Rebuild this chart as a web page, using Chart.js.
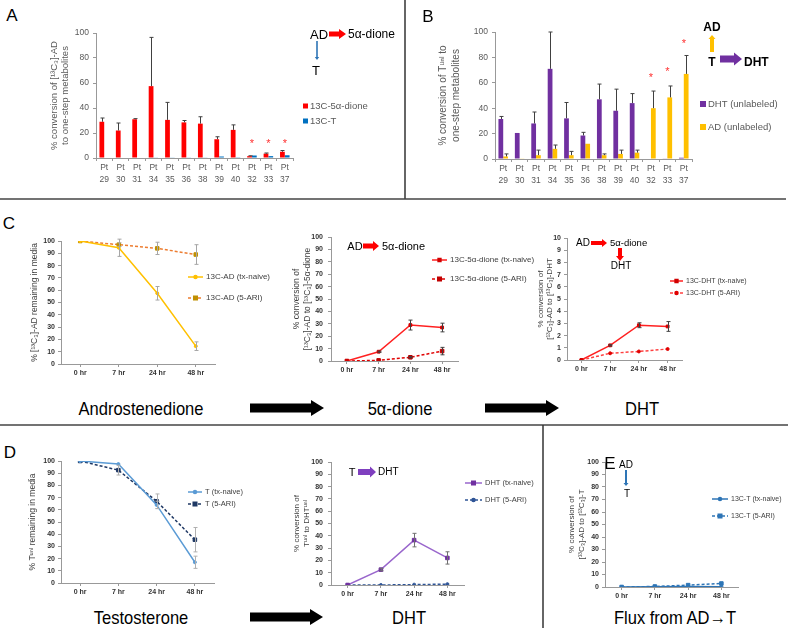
<!DOCTYPE html>
<html>
<head>
<meta charset="utf-8">
<title>AD and T metabolism in explants</title>
<script src="https://cdn.jsdelivr.net/npm/chart.js"></script>
<style>
  body { margin: 0; background: #fff; font-family: "Liberation Sans", Arial, sans-serif; }
  #fig { position: relative; width: 800px; height: 628px; overflow: hidden; }
  .box { position: absolute; }
  .box canvas { display: block; }
  .c { position: absolute; transform: translate(-50%, -50%); white-space: nowrap; line-height: 1; }
  .l { position: absolute; transform: translate(0, -50%); white-space: nowrap; line-height: 1; }
  .cap { font-size: 19px; transform: translate(-50%, -50%) scaleX(0.87); }
  .pl { font-size: 17px; }
</style>
</head>
<body>
<div id="fig">
  <svg id="ov" width="800" height="628" style="position:absolute;left:0;top:0">
    <line x1="405" y1="0" x2="405" y2="199" stroke="#333" stroke-width="1.5"/>
    <line x1="0" y1="199" x2="786" y2="199" stroke="#444" stroke-width="1.5"/>
    <line x1="0" y1="425" x2="788" y2="425" stroke="#444" stroke-width="1.5"/>
    <line x1="543" y1="425" x2="543" y2="628" stroke="#333" stroke-width="1.5"/>
  </svg>

  <div class="box" style="left:30px;top:15px"><canvas id="chA" width="370" height="180"></canvas></div>
  <div class="box" style="left:420px;top:14px"><canvas id="chB" width="380" height="181"></canvas></div>
  <div class="box" style="left:20px;top:225px"><canvas id="chC1" width="265" height="155"></canvas></div>
  <div class="box" style="left:285px;top:222px"><canvas id="chC2" width="255" height="155"></canvas></div>
  <div class="box" style="left:535px;top:222px"><canvas id="chC3" width="260" height="155"></canvas></div>
  <div class="box" style="left:20px;top:445px"><canvas id="chD1" width="265" height="155"></canvas></div>
  <div class="box" style="left:285px;top:445px"><canvas id="chD2" width="255" height="155"></canvas></div>
  <div class="box" style="left:550px;top:445px"><canvas id="chE" width="245" height="155"></canvas></div>

  <!-- panel letters -->
  <div class="c pl" style="left:12px;top:15px">A</div>
  <div class="c pl" style="left:428px;top:16px">B</div>
  <div class="c pl" style="left:9px;top:223px">C</div>
  <div class="c pl" style="left:10px;top:452px">D</div>
  <div class="c pl" style="left:610px;top:463px">E</div>

  <!-- pathway sketches -->
  <div class="c" style="left:319px;top:34px;font-size:13px">AD</div>
  <div class="l" style="left:348px;top:34px;font-size:12px">5α-dione</div>
  <div class="c" style="left:316px;top:70px;font-size:13px">T</div>

  <div class="c" style="left:712px;top:27px;font-size:12px;font-weight:bold">AD</div>
  <div class="c" style="left:712px;top:62px;font-size:12px;font-weight:bold">T</div>
  <div class="l" style="left:744px;top:62px;font-size:12px;font-weight:bold">DHT</div>

  <div class="c" style="left:355px;top:246px;font-size:11px">AD</div>
  <div class="l" style="left:382px;top:246px;font-size:11px">5α-dione</div>

  <div class="c" style="left:583px;top:243px;font-size:10px">AD</div>
  <div class="l" style="left:610px;top:243px;font-size:9.5px">5α-dione</div>
  <div class="c" style="left:621px;top:266px;font-size:10px">DHT</div>

  <div class="c" style="left:352px;top:472px;font-size:11px">T</div>
  <div class="l" style="left:378px;top:472px;font-size:10px">DHT</div>

  <div class="c" style="left:626px;top:465px;font-size:10px">AD</div>
  <div class="c" style="left:627px;top:494px;font-size:10px">T</div>

  <!-- captions -->
  <div class="c cap" style="left:141px;top:408px">Androstenedione</div>
  <div class="c cap" style="left:400px;top:408px">5α-dione</div>
  <div class="c cap" style="left:642px;top:408px">DHT</div>
  <div class="c cap" style="left:141px;top:617px">Testosterone</div>
  <div class="c cap" style="left:409px;top:617px">DHT</div>
  <div class="c cap" style="left:675px;top:617px">Flux from AD→T</div>
</div>

<script>
// ---- data ----
const patients = ['29', '30', '31', '34', '35', '36', '38', '39', '40', '32', '33', '37'];

// A: one-step metabolites of [13C3]-AD
const aDione    = [29, 22, 31, 57.5, 30.5, 28.5, 27.5, 15, 22.5, 1.5, 3.5, 5];
const aDioneErr = [3, 6, 0.5, 39, 14, 1.5, 5.5, 2, 4, 0.3, 0.5, 1];
const aT        = [0, 0, 0, 0.3, 0.3, 0.3, 0.3, 1.2, 0.6, 2, 1.5, 2.2];
const aStars    = [null, null, null, null, null, null, null, null, null, 13, 13, 13];

// B: one-step metabolites of unlabeled T
const bDht    = [31.5, 20.5, 28, 71, 32, 18.5, 47, 38, 44, 0, 0.3, 1];
const bDhtErr = [2, 0, 9, 29, 12.5, 2.5, 12, 17, 7.5, 0, 0, 0];
const bAd     = [2, 0.5, 3, 8, 3, 12, 3, 4, 5, 40, 48.5, 67];
const bAdErr  = [2, 0, 4, 3, 3, 0, 1, 3, 2, 13.5, 9, 14.5];
const bStars  = [null, null, null, null, null, null, null, null, null, 65, 70, 92];

const hours = ['0 hr', '7 hr', '24 hr', '48 hr'];

// C: [13C3]-AD time courses
const c1Naive = [100, 94.5, 57.5, 14.5], c1NaiveErr = [0, 7, 5.5, 3.5];
const c1Ari   = [100, 97, 94, 89],       c1AriErr   = [0, 1.5, 5, 8];
const c2Naive = [0, 7.5, 29, 27],        c2NaiveErr = [0, 0.5, 4, 3.5];
const c2Ari   = [0, 0.5, 3, 8],          c2AriErr   = [0, 0, 0.5, 3];
const c3Naive = [0, 1.2, 2.85, 2.75],    c3NaiveErr = [0, 0.05, 0.2, 0.4];
const c3Ari   = [0, 0.55, 0.7, 0.9];

// D: unlabeled T time courses
const d1Naive = [100, 97.5, 64, 17],     d1NaiveErr = [0, 0, 3, 5];
const d1Ari   = [100, 92.5, 67, 35.5],   d1AriErr   = [0, 4, 6, 10];
const d2Naive = [0, 12.5, 36.5, 22],     d2NaiveErr = [0, 1, 5.5, 5];
const d2Ari   = [0, 0, 0.3, 0.7];

// E: flux AD -> T
const eNaive = [0, 0.2, 0.5, 0.3];
const eAri   = [0, 0.4, 1.5, 2.8];

// ---- plugins ----
Chart.defaults.font.family = '"Liberation Sans", Arial, sans-serif';

const errorBars = {
  id: 'errorBars',
  afterDatasetsDraw(chart) {
    const ctx = chart.ctx, y = chart.scales.y;
    chart.data.datasets.forEach((ds, i) => {
      if (!ds.err) return;
      const meta = chart.getDatasetMeta(i);
      ctx.save();
      ctx.strokeStyle = ds.errColor || '#404040';
      ctx.lineWidth = 1;
      meta.data.forEach((el, j) => {
        const e = ds.err[j];
        if (!e) return;
        const v = ds.data[j];
        const x = Math.round(el.x) + 0.5;
        const top = y.getPixelForValue(v + e);
        const bot = y.getPixelForValue(ds.errBoth ? v - e : v);
        const cap = ds.errCap || 2;
        ctx.beginPath();
        ctx.moveTo(x, top); ctx.lineTo(x, bot);
        ctx.moveTo(x - cap, top); ctx.lineTo(x + cap, top);
        if (ds.errBoth) { ctx.moveTo(x - cap, bot); ctx.lineTo(x + cap, bot); }
        ctx.stroke();
      });
      ctx.restore();
    });
  }
};

const starMarks = {
  id: 'starMarks',
  afterDatasetsDraw(chart, args, o) {
    if (!o || !o.values) return;
    const ctx = chart.ctx, x = chart.scales.x, y = chart.scales.y;
    ctx.save();
    ctx.fillStyle = '#FF3030';
    ctx.font = '11px "Liberation Sans", Arial, sans-serif';
    ctx.textAlign = 'center';
    ctx.textBaseline = 'middle';
    for (let j = 0; j < o.values.length; j++) {
      const v = o.values[j];
      if (v == null) continue;
      ctx.fillText('*', x.getPixelForValue(j), y.getPixelForValue(v) + 2);
    }
    ctx.restore();
  }
};

const miniLegend = {
  id: 'miniLegend',
  afterDraw(chart, args, o) {
    if (!o || o.x === undefined) return;
    const ctx = chart.ctx;
    ctx.save();
    ctx.font = o.size + 'px "Liberation Sans", Arial, sans-serif';
    ctx.textBaseline = 'middle';
    chart.data.datasets.forEach((ds, i) => {
      const y = o.y + i * o.dy;
      if (o.box) {
        ctx.fillStyle = ds.backgroundColor;
        ctx.fillRect(o.x, y - o.box / 2, o.box, o.box);
        ctx.fillStyle = o.color;
        ctx.fillText(ds.label, o.x + o.box + 2, y);
      } else {
        ctx.strokeStyle = ds.borderColor;
        ctx.lineWidth = ds.borderWidth;
        ctx.setLineDash(ds.borderDash || []);
        ctx.beginPath(); ctx.moveTo(o.x, y); ctx.lineTo(o.x + o.len, y); ctx.stroke();
        ctx.setLineDash([]);
        ctx.fillStyle = ds.pointBackgroundColor;
        ctx.strokeStyle = ds.pointBorderColor;
        Chart.helpers.drawPoint(ctx, { pointStyle: ds.pointStyle, radius: ds.pointRadius, rotation: 0, borderWidth: 1 }, o.x + o.len / 2, y);
        ctx.fillStyle = o.color;
        ctx.fillText(ds.label, o.x + o.len + 3, y);
      }
    });
    ctx.restore();
  }
};

Chart.register(errorBars, starMarks, miniLegend);

// ---- axis helpers ----
function yAxis(o) {
  return {
    min: 0, max: o.max,
    ticks: { stepSize: o.step, font: o.tickFont, color: o.tickColor, padding: o.tickPad },
    grid: { drawOnChartArea: false, tickLength: 3, color: '#999' },
    border: { color: '#999' },
    title: { display: true, text: o.title, color: o.titleColor, font: o.titleFont, padding: { top: o.titlePad, bottom: 0 } },
    afterFit(s) { s.width = o.width; s.paddingTop = 0; s.paddingBottom = 0; }
  };
}

function xAxis(o) {
  return {
    offset: true,
    grid: { drawOnChartArea: false, tickLength: 3, color: '#999', offset: o.gridOffset || false },
    border: { color: '#999' },
    ticks: { font: o.font, color: o.color, padding: o.pad, maxRotation: 0, autoSkip: false },
    afterFit(s) { s.height = o.height; s.paddingLeft = 0; s.paddingRight = 0; }
  };
}

function barChart(id, o) {
  return new Chart(document.getElementById(id), {
    type: 'bar',
    data: { labels: patients.map(p => ['Pt', p]), datasets: o.datasets },
    options: {
      responsive: false, animation: false,
      layout: { padding: o.padding },
      datasets: { bar: { categoryPercentage: 0.58, barPercentage: 1 } },
      plugins: { legend: { display: false }, tooltip: { enabled: false }, miniLegend: o.legend, starMarks: { values: o.stars } },
      scales: {
        x: xAxis({ height: o.xH, font: { size: 8.5, lineHeight: 1.4 }, color: '#595959', pad: 1, gridOffset: true }),
        y: yAxis({ max: 100, step: 10, width: o.yW, tickFont: { size: 8.5 }, tickColor: '#595959', tickPad: 4,
                   title: o.title, titleColor: '#595959', titleFont: o.titleFont, titlePad: o.titlePad })
      }
    }
  });
}

function lineSet(label, data, color, dashed, style, radius, markColor, err, errColor) {
  return {
    label: label, data: data, err: err, errBoth: true, errColor: errColor, errCap: 2,
    borderColor: color, backgroundColor: color, borderWidth: 1.5,
    borderDash: dashed ? [3, 2] : [],
    pointStyle: style, pointRadius: radius,
    pointBackgroundColor: markColor, pointBorderColor: markColor, pointBorderWidth: 1,
    tension: 0
  };
}

function lineChart(id, o) {
  return new Chart(document.getElementById(id), {
    type: 'line',
    data: { labels: hours, datasets: o.datasets },
    options: {
      responsive: false, animation: false,
      layout: { padding: o.padding },
      plugins: { legend: { display: false }, tooltip: { enabled: false }, miniLegend: o.legend },
      scales: {
        x: xAxis({ height: o.xH, font: { size: 7, weight: 'bold' }, color: '#333', pad: 2 }),
        y: yAxis({ max: o.max || 100, step: o.step || 10, width: o.yW, tickFont: { size: 7, weight: 'bold' }, tickColor: '#333',
                   tickPad: o.tickPad || 3, title: o.title, titleColor: '#404040', titleFont: o.titleFont, titlePad: o.titlePad })
      }
    }
  });
}

// ---- panel A ----
barChart('chA', {
  padding: { top: 18, right: 107, bottom: 0, left: 0 }, yW: 66, xH: 37,
  title: ['% conversion of [¹³C₃]-AD', 'to one-step metabolites'], titleFont: { size: 9.5, lineHeight: 1.1 }, titlePad: 19.5,
  stars: aStars,
  legend: { x: 273, y: 91, dy: 15, box: 5, size: 9.5, color: '#595959' },
  datasets: [
    { label: '13C-5α-dione', data: aDione, err: aDioneErr, backgroundColor: '#FF0000' },
    { label: '13C-T', data: aT, backgroundColor: '#0070C0' }
  ]
});

// ---- panel B ----
barChart('chB', {
  padding: { top: 18, right: 108, bottom: 0, left: 0 }, yW: 75, xH: 36,
  title: ['% conversion of Tᵘⁿˡ to', 'one-step metabolites'], titleFont: { size: 10, lineHeight: 1.3 }, titlePad: 16.5,
  stars: bStars,
  legend: { x: 280, y: 90, dy: 23, box: 6, size: 9.5, color: '#595959' },
  datasets: [
    { label: 'DHT (unlabeled)', data: bDht, err: bDhtErr, backgroundColor: '#7030A0' },
    { label: 'AD (unlabeled)', data: bAd, err: bAdErr, backgroundColor: '#FFC000' }
  ]
});

// ---- panel C ----
lineChart('chC1', {
  padding: { top: 16, right: 70, bottom: 0, left: 0 }, yW: 41, xH: 16,
  title: '% [¹³C₃]-AD remaining in media', titleFont: { size: 8.5, lineHeight: 1.2 }, titlePad: 10,
  legend: { x: 168, y: 52, dy: 21, len: 15, size: 8, color: '#404040' },
  datasets: [
    lineSet('13C-AD (tx-naive)', c1Naive, '#FFC000', false, 'circle', 1.5, '#FFC000', c1NaiveErr, '#A6A6A6'),
    lineSet('13C-AD (5-ARI)', c1Ari, '#ED7D31', true, 'rect', 2.5, '#C09000', c1AriErr, '#A6A6A6')
  ]
});

lineChart('chC2', {
  padding: { top: 15, right: 82, bottom: 0, left: 0 }, yW: 46, xH: 16, tickPad: 5,
  title: ['% conversion of', '[¹³C₃]-AD to [¹³C₃]-5α-dione'], titleFont: { size: 8.5, lineHeight: 1.3 }, titlePad: 6.5,
  legend: { x: 147, y: 38, dy: 19, len: 15, size: 8, color: '#404040' },
  datasets: [
    lineSet('13C-5α-dione (tx-naive)', c2Naive, '#FF2020', false, 'rect', 2, '#D00000', c2NaiveErr, '#404040'),
    lineSet('13C-5α-dione (5-ARI)', c2Ari, '#E00000', true, 'rect', 2.5, '#C00000', c2AriErr, '#404040')
  ]
});

lineChart('chC3', {
  padding: { top: 16, right: 113, bottom: 0, left: 0 }, yW: 32, xH: 17, max: 10, step: 1,
  title: ['% conversion of', '[¹³C₃]-AD to [¹³C₃]-DHT'], titleFont: { size: 8, lineHeight: 1.15 }, titlePad: 1,
  legend: { x: 135, y: 59, dy: 12, len: 13, size: 7, color: '#404040' },
  datasets: [
    lineSet('13C-DHT (tx-naive)', c3Naive, '#FF2020', false, 'rect', 2, '#D00000', c3NaiveErr, '#404040'),
    lineSet('13C-DHT (5-ARI)', c3Ari, '#FF4040', true, 'circle', 1.5, '#E00000', null, '#404040')
  ]
});

// ---- panel D ----
lineChart('chD1', {
  padding: { top: 16, right: 71, bottom: 0, left: 0 }, yW: 41, xH: 17,
  title: '% Tᵘⁿˡ remaining in media', titleFont: { size: 8.5, lineHeight: 1.2 }, titlePad: 8,
  legend: { x: 168, y: 47, dy: 12, len: 14, size: 7.5, color: '#404040' },
  datasets: [
    lineSet('T (tx-naive)', d1Naive, '#5B9BD5', false, 'circle', 1.5, '#5B9BD5', d1NaiveErr, '#B0B0B0'),
    lineSet('T (5-ARI)', d1Ari, '#1F3864', true, 'rect', 2.5, '#1F3864', d1AriErr, '#B0B0B0')
  ]
});

lineChart('chD2', {
  padding: { top: 17, right: 76, bottom: 0, left: 0 }, yW: 46, xH: 15, tickPad: 5,
  title: ['% conversion of', 'Tᵘⁿˡ to DHTᵘⁿˡ'], titleFont: { size: 8, lineHeight: 1.2 }, titlePad: 7,
  legend: { x: 180, y: 38, dy: 17, len: 17, size: 7.5, color: '#404040' },
  datasets: [
    lineSet('DHT (tx-naive)', d2Naive, '#9966CC', false, 'rect', 2.5, '#7030A0', d2NaiveErr, '#707070'),
    lineSet('DHT (5-ARI)', d2Ari, '#2F5597', true, 'circle', 1.5, '#2F5597', null, '#707070')
  ]
});

// ---- panel E ----
lineChart('chE', {
  padding: { top: 17, right: 57, bottom: 0, left: 0 }, yW: 55, xH: 13,
  title: ['% conversion of', '[¹³C₃]-AD to [¹³C₃]-T'], titleFont: { size: 8, lineHeight: 1.2 }, titlePad: 17,
  legend: { x: 162, y: 54, dy: 17, len: 16, size: 7, color: '#404040' },
  datasets: [
    lineSet('13C-T (tx-naive)', eNaive, '#2E75B6', false, 'circle', 1.5, '#2E75B6', null, '#707070'),
    lineSet('13C-T (5-ARI)', eAri, '#2E75B6', true, 'rect', 2.5, '#2E75B6', null, '#707070')
  ]
});

// ---- pathway arrows (decoration) ----
const svg = document.getElementById('ov');
function arrow(x1, y1, x2, y2, b, h, L, color) {
  const len = Math.hypot(x2 - x1, y2 - y1);
  const ang = Math.atan2(y2 - y1, x2 - x1) * 180 / Math.PI;
  const pts = [[0, -b], [len - L, -b], [len - L, -h], [len, 0], [len - L, h], [len - L, b], [0, b]]
    .map(p => p.join(',')).join(' ');
  const p = document.createElementNS('http://www.w3.org/2000/svg', 'polygon');
  p.setAttribute('points', pts);
  p.setAttribute('fill', color);
  p.setAttribute('transform', 'translate(' + x1 + ',' + y1 + ') rotate(' + ang + ')');
  svg.appendChild(p);
}
arrow(329, 34, 346, 34, 2.5, 5, 7, '#FF0000');
arrow(317, 41, 317, 60, 0.8, 2.2, 3, '#2E75B6');
arrow(712, 52, 712, 35, 2, 3.5, 4, '#FFC000');
arrow(720, 59, 742, 59, 3.5, 6.5, 8, '#7030A0');
arrow(363, 246, 379, 246, 2.5, 5, 6, '#FF0000');
arrow(591, 243, 607, 243, 2, 4, 5, '#FF0000');
arrow(620, 248, 620, 261, 2, 4, 5, '#FF0000');
arrow(358, 472, 376, 472, 3, 5.5, 6, '#7F3FBF');
arrow(626, 470, 626, 486, 1, 2.5, 3, '#2E75B6');
arrow(250, 408, 324, 408, 4.5, 8, 13, '#000');
arrow(485, 408, 559, 408, 4.5, 8, 13, '#000');
arrow(250, 617, 323, 617, 4.5, 8, 13, '#000');
</script>
</body>
</html>
